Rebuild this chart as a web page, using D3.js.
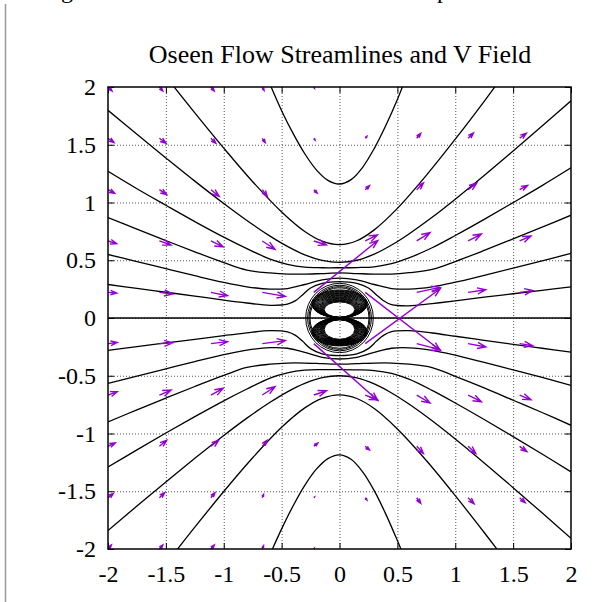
<!DOCTYPE html>
<html>
<head>
<meta charset="utf-8">
<script src="https://cdn.jsdelivr.net/npm/d3@7"></script>
<style>
  body { margin: 0; background: #fff; }
  svg { display: block; }
  text { font-family: "Liberation Serif", "Times New Roman", serif; fill: #000; }
</style>
</head>
<body>
<script>
// ticks
const xTicks = [-2, -1.5, -1, -0.5, 0, 0.5, 1, 1.5, 2];
const yTicks = [-2, -1.5, -1, -0.5, 0, 0.5, 1, 1.5, 2];

// streamlines (upper half then lower half)
const sideX = [-2, -1.75, -1.5, -1.25, -1, -0.8, -0.6, -0.45, -0.3, -0.15, 0, 0.15, 0.3, 0.45, 0.6, 0.8, 1, 1.25, 1.5, 1.75, 2];
const gX = [-2, -1.75, -1.5, -1.25, -1, -0.8, -0.6, -0.45, -0.38, -0.32, -0.25, -0.15, 0, 0.15, 0.25, 0.32, 0.38, 0.45, 0.6, 0.8, 1, 1.25, 1.5, 1.75, 2];

const aUpX = [-0.62, -0.5, -0.4, -0.3, -0.2, -0.1, 0, 0.1, 0.2, 0.3, 0.4, 0.5, 0.57];
const aUpY = [2.07, 1.795, 1.596, 1.422, 1.283, 1.192, 1.16, 1.198, 1.305, 1.467, 1.666, 1.892, 2.07];
const bUpX = [-1.46, -1.25, -1, -0.75, -0.5, -0.3, -0.15, 0, 0.15, 0.3, 0.5, 0.75, 1, 1.25, 1.37];
const bUpY = [2.04, 1.776, 1.471, 1.18, 0.918, 0.749, 0.665, 0.635, 0.669, 0.763, 0.949, 1.235, 1.548, 1.876, 2.04];
const cUpY = [1.798, 1.59, 1.386, 1.185, 0.991, 0.844, 0.709, 0.62, 0.547, 0.499, 0.482, 0.5, 0.553, 0.632, 0.728, 0.872, 1.029, 1.234, 1.446, 1.662, 1.88];
const dUpY = [1.27, 1.119, 0.976, 0.835, 0.7, 0.6, 0.51, 0.465, 0.44, 0.435, 0.435, 0.437, 0.443, 0.47, 0.52, 0.608, 0.714, 0.854, 0.999, 1.146, 1.3];
const eUpY = [0.87, 0.769, 0.67, 0.573, 0.48, 0.415, 0.39, 0.38, 0.38, 0.385, 0.39, 0.385, 0.38, 0.38, 0.392, 0.42, 0.489, 0.585, 0.685, 0.786, 0.89];
const fUpY = [0.55, 0.489, 0.427, 0.366, 0.308, 0.27, 0.25, 0.255, 0.29, 0.33, 0.345, 0.33, 0.29, 0.255, 0.25, 0.27, 0.31, 0.37, 0.432, 0.495, 0.56];
const gUpY = [0.29, 0.256, 0.223, 0.19, 0.155, 0.13, 0.11, 0.12, 0.15, 0.2, 0.26, 0.3, 0.315, 0.3, 0.26, 0.2, 0.15, 0.115, 0.105, 0.125, 0.148, 0.18, 0.21, 0.24, 0.27];

const aLoX = [-0.61, -0.5, -0.4, -0.3, -0.2, -0.1, 0, 0.1, 0.2, 0.3, 0.4, 0.5, 0.555];
const aLoY = [-2.07, -1.826, -1.625, -1.449, -1.309, -1.217, -1.185, -1.223, -1.332, -1.495, -1.698, -1.927, -2.06];
const bLoX = [-1.43, -1.25, -1, -0.75, -0.5, -0.3, -0.15, 0, 0.15, 0.3, 0.5, 0.75, 1, 1.25, 1.39];
const bLoY = [-2.04, -1.811, -1.502, -1.21, -0.946, -0.778, -0.695, -0.665, -0.697, -0.784, -0.961, -1.234, -1.538, -1.857, -2.04];
const cLoY = [-1.84, -1.628, -1.419, -1.215, -1.017, -0.867, -0.73, -0.639, -0.566, -0.517, -0.5, -0.519, -0.571, -0.649, -0.745, -0.89, -1.048, -1.255, -1.469, -1.687, -1.908];
const dLoY = [-1.29, -1.142, -0.996, -0.854, -0.717, -0.615, -0.52, -0.475, -0.452, -0.447, -0.447, -0.449, -0.455, -0.48, -0.53, -0.627, -0.736, -0.879, -1.027, -1.178, -1.332];
const eLoY = [-0.9, -0.795, -0.693, -0.593, -0.497, -0.428, -0.4, -0.39, -0.39, -0.395, -0.4, -0.395, -0.39, -0.39, -0.4, -0.43, -0.505, -0.605, -0.712, -0.818, -0.929];
const fLoY = [-0.566, -0.503, -0.44, -0.377, -0.317, -0.278, -0.257, -0.262, -0.298, -0.34, -0.355, -0.34, -0.298, -0.262, -0.258, -0.28, -0.322, -0.385, -0.45, -0.515, -0.583];
const gLoY = [-0.28, -0.248, -0.216, -0.185, -0.152, -0.128, -0.11, -0.12, -0.15, -0.2, -0.265, -0.31, -0.325, -0.31, -0.265, -0.2, -0.15, -0.118, -0.11, -0.13, -0.158, -0.193, -0.228, -0.262, -0.295];

const axisX = [-2, 2];
const axisY = [0, 0];

// closed contours round the body
const ringRx = [0.292, 0.276, 0.264, 0.255];
const ringRy = [0.3, 0.284, 0.272, 0.262];
const upLobeRx = [0.132, 0.138, 0.144, 0.15, 0.156, 0.162, 0.168, 0.174, 0.18, 0.186, 0.192, 0.198, 0.204, 0.21, 0.216, 0.222, 0.228, 0.234, 0.24];
const upLobeRy = [0.066, 0.069, 0.072, 0.075, 0.078, 0.081, 0.084, 0.087, 0.09, 0.093, 0.096, 0.099, 0.102, 0.105, 0.108, 0.111, 0.114, 0.117, 0.12];
const upLobeCy = [0.073, 0.075, 0.077, 0.079, 0.081, 0.084, 0.087, 0.09, 0.093, 0.096, 0.099, 0.102, 0.105, 0.108, 0.111, 0.114, 0.117, 0.12, 0.123];
const loLobeRx = [0.132, 0.138, 0.144, 0.15, 0.156, 0.162, 0.168, 0.174, 0.18, 0.186, 0.192, 0.198, 0.204, 0.21, 0.216, 0.222, 0.228, 0.234, 0.24];
const loLobeRy = [0.084, 0.087, 0.089, 0.091, 0.093, 0.095, 0.097, 0.099, 0.101, 0.103, 0.105, 0.107, 0.109, 0.111, 0.113, 0.115, 0.117, 0.119, 0.121];
const loLobeCy = [-0.1, -0.101, -0.102, -0.103, -0.104, -0.105, -0.106, -0.107, -0.108, -0.109, -0.11, -0.111, -0.112, -0.113, -0.114, -0.115, -0.117, -0.119, -0.121];

// velocity field: tails on this grid, null = not drawn
const gridX = [-2, -1.556, -1.111, -0.667, -0.222, 0.222, 0.667, 1.111, 1.556];
const gridY = [2, 1.556, 1.111, 0.667, 0.222, -0.222, -0.667, -1.111, -1.556, -2];
const fieldU = [
  [0.035, 0.029, 0.029, 0.015, 0.006, null, null, null, null],
  [0.052, 0.058, 0.043, 0.026, 0.011, 0.015, 0.035, 0.046, 0.058],
  [0.058, 0.063, 0.072, 0.043, 0.029, 0.037, 0.058, 0.075, 0.069],
  [0.075, 0.101, 0.106, 0.11, 0.11, 0.106, 0.115, 0.115, 0.098],
  [0.075, 0.115, 0.144, 0.199, 0.553, 0.648, 0.201, 0.153, 0.115],
  [0.08, 0.115, 0.144, 0.199, 0.553, 0.648, 0.201, 0.153, 0.112],
  [0.08, 0.101, 0.106, 0.11, 0.11, 0.106, 0.115, 0.115, 0.098],
  [0.063, 0.063, 0.067, 0.041, 0.035, 0.037, 0.058, 0.067, 0.063],
  [0.046, 0.046, 0.035, 0.011, 0.006, 0.015, 0.035, 0.052, 0.049],
  [0.029, 0.029, 0.029, 0.011, 0.004, null, null, null, null]
];
const fieldV = [
  [-0.035, -0.035, -0.035, -0.029, -0.012, null, null, null, null],
  [-0.037, -0.043, -0.043, -0.037, -0.015, 0.017, 0.043, 0.046, 0.043],
  [-0.032, -0.043, -0.058, -0.058, -0.029, 0.035, 0.058, 0.058, 0.037],
  [-0.023, -0.035, -0.052, -0.072, -0.035, 0.052, 0.072, 0.06, 0.043],
  [-0.006, -0.015, -0.029, -0.035, 0.449, -0.501, 0.043, 0.023, 0.015],
  [0.009, 0.006, 0.017, 0.026, -0.492, 0.475, -0.052, -0.029, -0.017],
  [0.029, 0.043, 0.058, 0.072, 0.037, -0.041, -0.069, -0.058, -0.041],
  [0.029, 0.052, 0.052, 0.052, 0.029, -0.032, -0.063, -0.063, -0.046],
  [0.037, 0.043, 0.043, 0.029, 0.006, -0.02, -0.049, -0.052, -0.043],
  [0.035, 0.035, 0.035, 0.029, 0.006, null, null, null, null]
];

const width = 613, height = 602;
const svg = d3.select("body").append("svg")
    .attr("width", width)
    .attr("height", height);

const x = d3.scaleLinear().domain([-2, 2]).range([108, 571]);
const y = d3.scaleLinear().domain([-2, 2]).range([549, 87]);

// bits of the page around the chart
svg.append("line")
    .attr("x1", 5.5).attr("x2", 5.5).attr("y1", 4).attr("y2", height)
    .attr("stroke", "#999").attr("stroke-width", 1.5);
svg.append("text").attr("x", 61).attr("y", -2).attr("font-size", 24).text("g");
svg.append("text").attr("x", 437).attr("y", -2).attr("font-size", 24).text("p");

svg.append("text")
    .attr("x", 340).attr("y", 63)
    .attr("text-anchor", "middle")
    .attr("font-size", 26)
    .text("Oseen Flow Streamlines and V Field");

// grid
const grid = svg.append("g")
    .attr("stroke", "#555")
    .attr("stroke-width", 1)
    .attr("stroke-dasharray", "1,2");
grid.selectAll(".gx").data(xTicks.slice(1, -1)).enter().append("line")
    .attr("x1", d => x(d) + 0.5).attr("x2", d => x(d) + 0.5)
    .attr("y1", y(2)).attr("y2", y(-2));
grid.selectAll(".gy").data(yTicks.slice(1, -1)).enter().append("line")
    .attr("y1", d => y(d) + 0.5).attr("y2", d => y(d) + 0.5)
    .attr("x1", x(-2)).attr("x2", x(2));

// axes with inward ticks on all sides
const fmt = d => String(d);
const axB = svg.append("g").attr("transform", `translate(0,${y(-2)})`)
    .call(d3.axisBottom(x).tickValues(xTicks).tickSize(-6).tickPadding(16).tickFormat(fmt));
const axL = svg.append("g").attr("transform", `translate(${x(-2)},0)`)
    .call(d3.axisLeft(y).tickValues(yTicks).tickSize(-6).tickPadding(12).tickFormat(fmt));
const axT = svg.append("g").attr("transform", `translate(0,${y(2)})`)
    .call(d3.axisTop(x).tickValues(xTicks).tickSize(-6).tickFormat(""));
const axR = svg.append("g").attr("transform", `translate(${x(2)},0)`)
    .call(d3.axisRight(y).tickValues(yTicks).tickSize(-6).tickFormat(""));
[axB, axL, axT, axR].forEach(g => {
    g.attr("font-family", "Liberation Serif, serif");
    g.select(".domain").remove();
    g.selectAll("line").attr("stroke", "#000");
    g.selectAll("text").attr("font-size", 24).style("font-family", "'Liberation Serif', serif");
});

svg.append("clipPath").attr("id", "plot")
  .append("rect")
    .attr("x", x(-2)).attr("y", y(2))
    .attr("width", x(2) - x(-2)).attr("height", y(-2) - y(2));

// streamlines
const streams = [
    [aUpX, aUpY], [bUpX, bUpY], [sideX, cUpY], [sideX, dUpY], [sideX, eUpY], [sideX, fUpY], [gX, gUpY],
    [aLoX, aLoY], [bLoX, bLoY], [sideX, cLoY], [sideX, dLoY], [sideX, eLoY], [sideX, fLoY], [gX, gLoY],
    [axisX, axisY]
];
const line = d3.line()
    .x(d => x(d[0]))
    .y(d => y(d[1]))
    .curve(d3.curveCatmullRom.alpha(0.5));

const plot = svg.append("g").attr("clip-path", "url(#plot)");
plot.selectAll(".stream")
  .data(streams.map(s => s[0].map((v, i) => [v, s[1][i]])))
  .enter().append("path")
    .attr("class", "stream")
    .attr("d", line)
    .attr("fill", "none")
    .attr("stroke", "#000")
    .attr("stroke-width", 1.3);

const rings = ringRx.map((r, i) => ({cy: 0, rx: r, ry: ringRy[i]}))
    .concat(upLobeRx.map((r, i) => ({cy: upLobeCy[i], rx: r, ry: upLobeRy[i]})))
    .concat(loLobeRx.map((r, i) => ({cy: loLobeCy[i], rx: r, ry: loLobeRy[i]})));
plot.selectAll(".ring")
  .data(rings)
  .enter().append("ellipse")
    .attr("class", "ring")
    .attr("cx", x(0))
    .attr("cy", d => y(d.cy))
    .attr("rx", d => x(d.rx) - x(0))
    .attr("ry", d => y(0) - y(d.ry))
    .attr("fill", "none")
    .attr("stroke", "#000")
    .attr("stroke-width", 1);

// vectors
const vecs = [];
gridY.forEach((gy, r) => gridX.forEach((gx, c) => {
    if (fieldU[r][c] !== null) vecs.push({x: gx, y: gy, u: fieldU[r][c], v: fieldV[r][c]});
}));

function arrowPath(d) {
    const x1 = x(d.x), y1 = y(d.y), x2 = x(d.x + d.u), y2 = y(d.y + d.v);
    const len = Math.hypot(x2 - x1, y2 - y1);
    const hl = Math.min(9, len * 0.75);
    const a = Math.atan2(y2 - y1, x2 - x1), w = 20 * Math.PI / 180;
    const p = d3.path();
    p.moveTo(x1, y1); p.lineTo(x2, y2);
    p.moveTo(x2 - hl * Math.cos(a - w), y2 - hl * Math.sin(a - w));
    p.lineTo(x2, y2);
    p.lineTo(x2 - hl * Math.cos(a + w), y2 - hl * Math.sin(a + w));
    return p.toString();
}
svg.append("g").selectAll(".vec")
  .data(vecs)
  .enter().append("path")
    .attr("class", "vec")
    .attr("d", arrowPath)
    .attr("fill", "none")
    .attr("stroke", "#9400d3")
    .attr("stroke-width", 1.4);

// border
svg.append("rect")
    .attr("x", x(-2)).attr("y", y(2))
    .attr("width", x(2) - x(-2)).attr("height", y(-2) - y(2))
    .attr("fill", "none").attr("stroke", "#000").attr("stroke-width", 1.5);
</script>
</body>
</html>
